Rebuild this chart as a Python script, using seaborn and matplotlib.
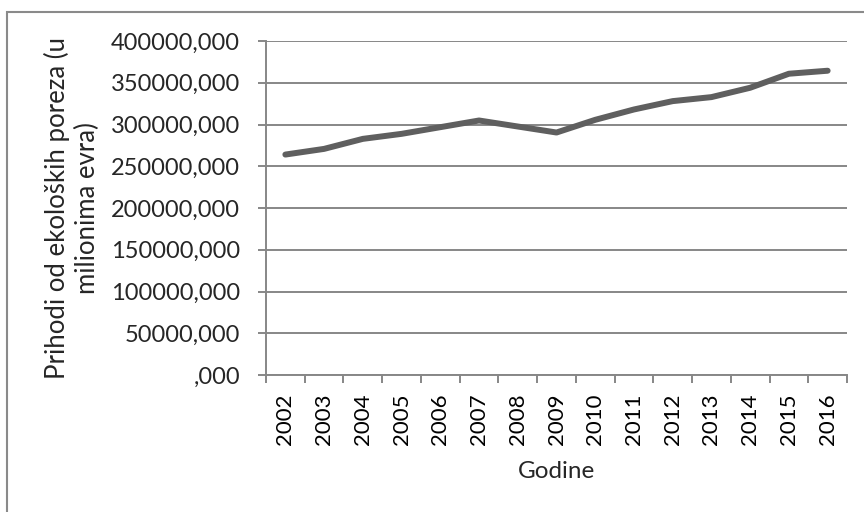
import matplotlib
matplotlib.use("Agg")
import matplotlib.pyplot as plt
import matplotlib.patches as mpatches
from matplotlib.ticker import FixedLocator, FuncFormatter
import seaborn as sns
import pandas as pd

# Annual revenue from environmental taxes (millions of euro)
years = ["2002", "2003", "2004", "2005", "2006", "2007", "2008", "2009",
         "2010", "2011", "2012", "2013", "2014", "2015", "2016"]
revenue = [264000, 270800, 282800, 288800, 296800, 304800, 297600, 290400,
           305600, 318000, 328000, 332800, 344000, 360800, 364400]

df = pd.DataFrame({"pos": range(len(years)), "godina": years, "prihod": revenue})

sns.set_theme(style="white")
plt.rcParams["font.family"] = ["Lato", "DejaVu Sans"]

grid_c = "#878787"
fig = plt.figure(figsize=(8.64, 5.12), dpi=100)
ax = fig.add_axes([266 / 864, 1 - 375 / 512, (847 - 266) / 864, (375 - 41) / 512])

sns.lineplot(data=df, x="pos", y="prihod", ax=ax, color="#5f5f5f",
             linewidth=4.3, solid_capstyle="round", solid_joinstyle="round")

ax.set_xlim(-0.5, len(years) - 0.5)
ax.set_ylim(0, 400000)

ax.yaxis.set_major_locator(FixedLocator(range(0, 400001, 50000)))
ax.yaxis.set_major_formatter(FuncFormatter(
    lambda v, p: ",000" if v == 0 else f"{int(v)},000"))
ax.grid(axis="y", color=grid_c, linewidth=1.4)
ax.set_axisbelow(True)

ax.set_xticks(range(len(years)))
ax.set_xticklabels(years, rotation=90)
ax.set_xticks([i - 0.5 for i in range(len(years) + 1)], minor=True)
ax.tick_params(axis="x", which="major", length=0, pad=13, labelsize=16,
               colors="black")
ax.tick_params(axis="x", which="minor", length=5.8, width=1.4, color=grid_c,
               bottom=True)
ax.tick_params(axis="y", which="major", length=5.8, width=1.4, color=grid_c,
               left=True, pad=13, labelsize=17)

for side in ("top", "right"):
    ax.spines[side].set_visible(False)
for side in ("left", "bottom"):
    ax.spines[side].set_color(grid_c)
    ax.spines[side].set_linewidth(1.4)

ax.set_xlabel("Godine", fontsize=17.5, labelpad=12)
ax.set_ylabel("Prihodi od ekoloških poreza (u\nmilionima evra)",
              fontsize=18.5, labelpad=8, linespacing=1.2)

# chart area frame
fig.patches.append(mpatches.Rectangle(
    (7 / 864, -0.1), 1.1, 1 - 12 / 512 + 0.1, transform=fig.transFigure,
    fill=False, edgecolor="#8a8a8a", linewidth=1.5))

fig.savefig("out.png", dpi=100)
